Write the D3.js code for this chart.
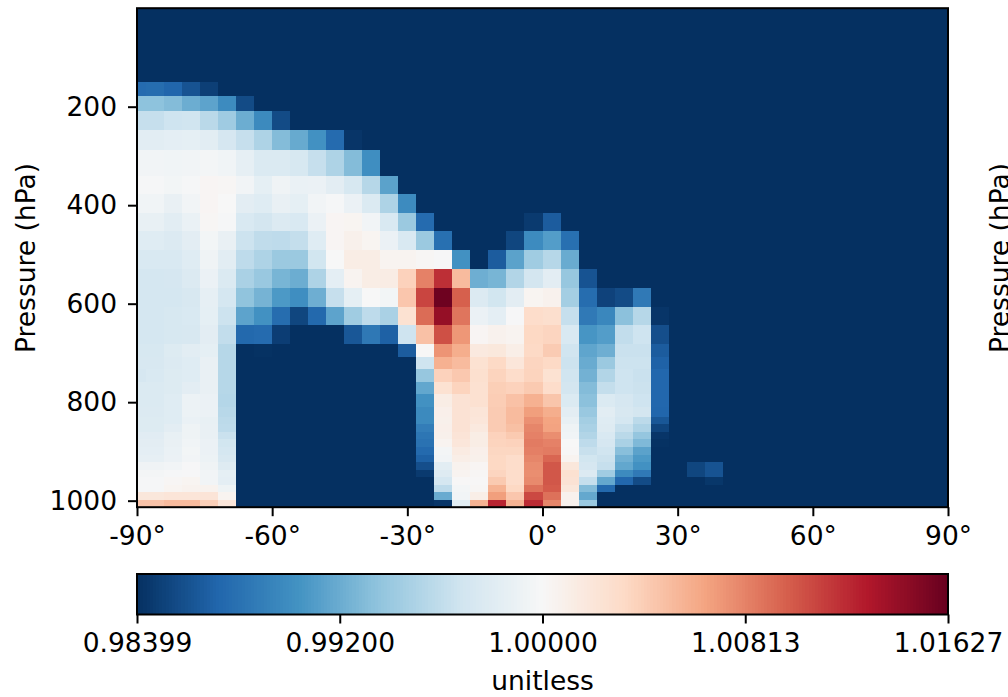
<!DOCTYPE html>
<html>
<head>
<meta charset="utf-8">
<script src="https://d3js.org/d3.v7.min.js"></script>
<style>
body { margin: 0; background: #fff; overflow: hidden; }
svg { display: block; }
text { font-family: "DejaVu Sans"; fill: #000; }
</style>
</head>
<body>
<div id="chart"></div>
<script>
// Data
// cell edges, 4x5 style latitude grid and hybrid pressure levels
const latEdges = [-90,-88,-84,-80,-76,-72,-68,-64,-60,-56,-52,-48,-44,-40,-36,-32,-28,-24,-20,-16,-12,-8,-4,0,4,8,12,16,20,24,28,32,36,40,44,48,52,56,60,64,68,72,76,80,84,88,90]
const pressureEdges = [0,150.39,178.43,208.15,247.21,288.92,340.54,377.09,415.22,453.40,491.54,529.67,567.82,605.96,644.11,682.27,707.72,733.18,758.63,784.09,809.55,829.93,845.21,860.48,875.76,891.05,906.34,921.62,936.91,952.19,967.47,982.76,998.05,1013.25]

const vmin = -161
const vmax = 163

// (ratio - 1) * 10000, one row per pressure layer from the top down, one value per
// latitude cell from the south. Rows stop where the rest of the row is at the minimum.
const ratioRows = [
  [],
  [-125,-124,-129,-140,-152],
  [-66,-66,-70,-80,-86,-102,-145],
  [-38,-38,-33,-32,-44,-58,-80,-103,-145],
  [-18,-18,-16,-15,-18,-28,-38,-50,-70,-82,-98,-125,-158],
  [-5,-5,-6,-5,-3,-6,-14,-24,-24,-27,-38,-50,-70,-100],
  [-2,-2,-4,-2,3,2,-5,-15,-7,-11,-10,-17,-27,-46,-87],
  [-6,-6,-12,-5,3,0,-17,-20,-12,-15,-5,-2,-10,-24,-50,-102],
  [-13,-13,-18,-11,2,-2,-25,-30,-23,-25,-10,3,4,-5,-25,-60,-125,-161,-161,-161,-161,-161,-155,-135],
  [-20,-20,-23,-17,-4,-12,-34,-41,-42,-39,-20,3,8,4,-10,-25,-60,-122,-161,-161,-161,-148,-102,-90,-122],
  [-25,-25,-25,-20,-7,-18,-42,-50,-60,-60,-31,0,12,12,5,5,2,-1,-98,-161,-135,-87,-57,-46,-81],
  [-29,-29,-28,-23,-10,-24,-52,-61,-75,-80,-50,-16,5,12,13,38,82,120,52,-79,-75,-48,-30,-17,-62,-140],
  [-29,-29,-29,-26,-14,-29,-65,-76,-93,-100,-79,-38,-15,0,-4,45,110,160,98,-23,-31,-17,4,7,-55,-124,-150,-145,-115],
  [-29,-29,-27,-25,-15,-34,-86,-98,-124,-148,-127,-86,-57,-42,-52,25,92,143,88,-10,-16,-1,30,28,-38,-115,-105,-67,-46,-158],
  [-29,-29,-27,-26,-17,-40,-127,-125,-153,-161,-161,-161,-138,-116,-132,-33,48,105,72,3,7,5,34,36,-25,-95,-90,-40,-33,-143],
  [-27,-27,-22,-18,-15,-46,-161,-160,-161,-161,-161,-161,-161,-161,-161,-135,1,73,60,16,18,11,33,42,-32,-85,-79,-36,-36,-135],
  [-26,-26,-23,-20,-12,-46,-161,-161,-161,-161,-161,-161,-161,-161,-161,-161,-33,58,52,25,33,20,36,33,-34,-81,-60,-34,-34,-131],
  [-28,-25,-22,-20,-12,-46,-161,-161,-161,-161,-161,-161,-161,-161,-161,-161,-62,38,44,27,37,30,37,25,-32,-77,-48,-33,-36,-128],
  [-24,-24,-22,-17,-12,-46,-161,-161,-161,-161,-161,-161,-161,-161,-161,-161,-84,25,37,26,40,38,43,30,-30,-70,-39,-33,-35,-128],
  [-24,-24,-20,-9,-10,-47,-161,-161,-161,-161,-161,-161,-161,-161,-161,-161,-98,12,24,26,41,48,58,46,-24,-67,-24,-28,-33,-128],
  [-23,-23,-20,-9,-10,-45,-161,-161,-161,-161,-161,-161,-161,-161,-161,-161,-103,9,24,21,42,52,68,60,-17,-61,-18,-26,-30,-129],
  [-22,-22,-20,-11,-13,-43,-161,-161,-161,-161,-161,-161,-161,-161,-161,-161,-103,8,24,20,42,52,75,65,-13,-55,-20,-29,-43,-138],
  [-22,-22,-17,-8,-12,-42,-161,-161,-161,-161,-161,-161,-161,-161,-161,-161,-112,9,24,16,42,49,80,66,-8,-52,-21,-37,-50,-149],
  [-19,-19,-13,-8,-12,-36,-161,-161,-161,-161,-161,-161,-161,-161,-161,-161,-117,8,22,12,38,43,82,76,-6,-48,-25,-44,-63,-158],
  [-17,-17,-12,-6,-10,-31,-161,-161,-161,-161,-161,-161,-161,-161,-161,-161,-120,5,20,12,37,38,85,82,0,-42,-28,-52,-72,-160],
  [-16,-16,-11,-4,-10,-29,-161,-161,-161,-161,-161,-161,-161,-161,-161,-161,-126,-3,14,9,35,35,83,85,1,-37,-32,-68,-87],
  [-14,-14,-10,-5,-9,-26,-161,-161,-161,-161,-161,-161,-161,-161,-161,-161,-132,-5,11,8,34,30,80,95,5,-31,-35,-78,-93],
  [-7,-7,-5,-1,-7,-21,-161,-161,-161,-161,-161,-161,-161,-161,-161,-161,-143,-18,6,3,34,30,77,102,19,-28,-38,-84,-98,-161,-161,-148,-140],
  [-3,-3,-2,-1,-5,-15,-161,-161,-161,-161,-161,-161,-161,-161,-161,-161,-155,-21,5,2,36,30,76,102,26,-23,-57,-102,-115,-161,-161,-148,-140],
  [-2,-2,2,4,-5,-16,-161,-161,-161,-161,-161,-161,-161,-161,-161,-161,-161,-29,1,1,43,30,78,102,24,-38,-83,-128,-145,-161,-161,-161,-157],
  [-2,-2,4,6,6,-8,-161,-161,-161,-161,-161,-161,-161,-161,-161,-161,-161,-42,-3,2,57,34,90,100,19,-70,-127],
  [19,19,21,21,22,5,-161,-161,-161,-161,-161,-161,-161,-161,-161,-161,-161,-81,-5,11,68,45,108,90,7,-83],
  [47,47,52,52,39,20,-161,-161,-161,-161,-161,-161,-161,-161,-161,-161,-161,-158,-18,57,125,57,122,80,7,-60]
]

const latTicks = [-90,-60,-30,0,30,60,90]
const pressureTicks = [200,400,600,800,1000]
const colorbarLabels = ['0.98399','0.99200','1.00000','1.00813','1.01627']

// RdBu_r colours, evenly spaced along the bar
const cmapColors = ['#053061','#2166ac','#4393c3','#92c5de','#d1e5f0','#f7f7f7','#fddbc7','#f4a582','#d6604d','#b2182b','#67001f']

// Dimensions
const dimensions = { width: 1008, height: 697 }
const plot = { left: 137, right: 948, top: 8.2, bottom: 507.2 }
const bar = { top: 574, bottom: 614.5 }
const fontSize = 26.5
const tickLen = 9

const svg = d3.select('#chart')
              .append('svg')
              .attr('width', dimensions.width)
              .attr('height', dimensions.height)

// Scales
const xScale = d3.scaleLinear().domain([-90, 90]).range([plot.left, plot.right])
const yScale = d3.scaleLinear().domain([0, 1013.25]).range([plot.top, plot.bottom])

const normScale = d3.scaleLinear().domain([vmin, 0, vmax]).range([0, 0.5, 1])
const cmap = d3.scaleLinear()
               .domain(d3.range(11).map(i => i / 10))
               .range(cmapColors)

// Cells
const cells = []
ratioRows.forEach((row, r) => {
  latEdges.slice(0, -1).forEach((lat, c) => {
    cells.push({ r, c, value: c < row.length ? row[c] : vmin })
  })
})

svg.append('g')
   .attr('shape-rendering', 'crispEdges')
   .selectAll('rect')
   .data(cells)
   .join('rect')
   .attr('x', d => xScale(latEdges[d.c]))
   .attr('y', d => yScale(pressureEdges[d.r]))
   .attr('width', d => xScale(latEdges[d.c + 1]) - xScale(latEdges[d.c]))
   .attr('height', d => yScale(pressureEdges[d.r + 1]) - yScale(pressureEdges[d.r]))
   .attr('fill', d => cmap(normScale(d.value)))

// Axes
const styleAxis = g => {
  g.select('.domain').remove()
  g.selectAll('line').attr('stroke', '#000').attr('stroke-width', 2)
  g.selectAll('text')
   .attr('font-family', 'DejaVu Sans')
   .attr('font-size', fontSize + 'px')
   .attr('fill', '#000')
}

svg.append('g')
   .attr('transform', `translate(0,${plot.bottom})`)
   .call(d3.axisBottom(xScale).tickValues(latTicks).tickSize(tickLen).tickPadding(10).tickFormat(d => d + '°'))
   .call(styleAxis)

svg.append('g')
   .attr('transform', `translate(${plot.left},0)`)
   .call(d3.axisLeft(yScale).tickValues(pressureTicks).tickSize(tickLen).tickPadding(11).tickFormat(d => d))
   .call(styleAxis)

svg.append('rect')
   .attr('x', plot.left)
   .attr('y', plot.top)
   .attr('width', plot.right - plot.left)
   .attr('height', plot.bottom - plot.top)
   .attr('fill', 'none')
   .attr('stroke', '#000')
   .attr('stroke-width', 2)

// Y labels, the second one belongs to a panel cut off by the window
;[35, 1009].forEach(x => {
  svg.append('text')
     .attr('transform', `translate(${x},258) rotate(-90)`)
     .attr('text-anchor', 'middle')
     .attr('font-size', fontSize + 'px')
     .text('Pressure (hPa)')
})

// Colorbar
const barScale = d3.scaleLinear().domain([0, 1]).range([plot.left, plot.right])
const barSteps = d3.range(256)

svg.append('g')
   .attr('shape-rendering', 'crispEdges')
   .selectAll('rect')
   .data(barSteps)
   .join('rect')
   .attr('x', d => barScale(d / 256))
   .attr('y', bar.top)
   .attr('width', barScale(1 / 256) - barScale(0) + 0.5)
   .attr('height', bar.bottom - bar.top)
   .attr('fill', d => cmap((d + 0.5) / 256))

const barTicks = d3.scalePoint().domain(colorbarLabels).range([plot.left, plot.right])

svg.append('g')
   .attr('transform', `translate(0,${bar.bottom})`)
   .call(d3.axisBottom(barTicks).tickSize(tickLen).tickPadding(10))
   .call(styleAxis)

svg.append('rect')
   .attr('x', plot.left)
   .attr('y', bar.top)
   .attr('width', plot.right - plot.left)
   .attr('height', bar.bottom - bar.top)
   .attr('fill', 'none')
   .attr('stroke', '#000')
   .attr('stroke-width', 2)

svg.append('text')
   .attr('x', 542.5)
   .attr('y', 690)
   .attr('text-anchor', 'middle')
   .attr('font-size', fontSize + 'px')
   .text('unitless')
</script>
</body>
</html>
